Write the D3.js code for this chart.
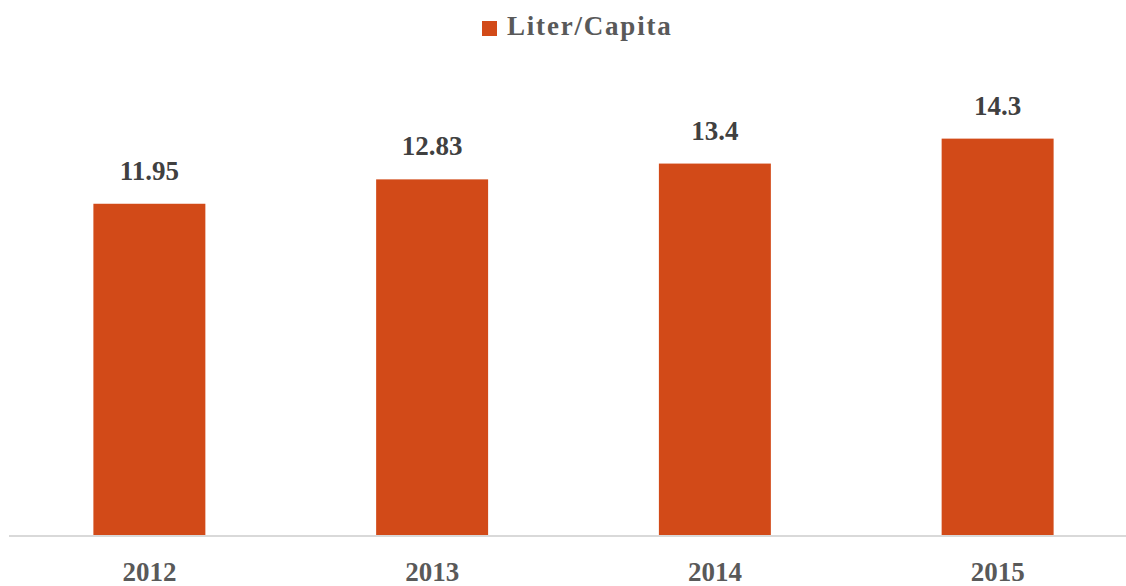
<!DOCTYPE html>
<html>
<head>
<meta charset="utf-8">
<script src="https://cdn.jsdelivr.net/npm/d3@7"></script>
<style>
  html, body { margin: 0; padding: 0; background: #fff; }
  svg { display: block; font-family: "Liberation Serif", "DejaVu Serif", serif; }
</style>
</head>
<body>
<div id="chart"></div>
<script>
// chart data
const years = ['2012', '2013', '2014', '2015'];
const literPerCapita = [11.95, 12.83, 13.4, 14.3];
const seriesName = 'Liter/Capita';

const width = 1126, height = 586;
const barColor = '#d24a18';

const svg = d3.select('#chart')
  .append('svg')
  .attr('width', width)
  .attr('height', height);

const x = d3.scaleBand()
  .domain(years)
  .range([8, 1139])
  .paddingInner(0.604)
  .paddingOuter(0.302);

const y = d3.scaleLinear()
  .domain([0, 16])
  .range([535, 91.5]);

// bars
svg.append('g')
  .selectAll('rect')
  .data(years)
  .join('rect')
    .attr('x', d => x(d))
    .attr('y', (d, i) => y(literPerCapita[i]))
    .attr('width', x.bandwidth())
    .attr('height', (d, i) => y(0) - y(literPerCapita[i]))
    .attr('fill', barColor);

// value labels
svg.append('g')
  .selectAll('text')
  .data(years)
  .join('text')
    .attr('x', d => x(d) + x.bandwidth() / 2)
    .attr('y', (d, i) => y(literPerCapita[i]) - 24)
    .attr('text-anchor', 'middle')
    .style('font-size', '27px')
    .style('font-weight', 'bold')
    .style('fill', '#404040')
    .text((d, i) => literPerCapita[i]);

// category axis
const xAxis = svg.append('g')
  .attr('transform', `translate(0, ${y(0)})`)
  .call(d3.axisBottom(x).tickSize(0).tickPadding(27));

xAxis.select('.domain')
  .attr('d', `M9,1H${width}`)
  .attr('stroke', '#d9d9d9')
  .attr('stroke-width', 2);

xAxis.selectAll('text')
  .style('font-family', '"Liberation Serif", "DejaVu Serif", serif')
  .style('font-size', '27px')
  .style('font-weight', 'bold')
  .style('fill', '#595959');

// legend
const legend = svg.append('g').attr('class', 'legend');
legend.append('rect')
  .attr('x', 482)
  .attr('y', 21)
  .attr('width', 15)
  .attr('height', 15)
  .attr('fill', barColor);
legend.append('text')
  .attr('x', 507)
  .attr('y', 35)
  .style('font-size', '27px')
  .style('font-weight', 'bold')
  .style('letter-spacing', '1.8px')
  .style('fill', '#595959')
  .text(seriesName);
</script>
</body>
</html>
